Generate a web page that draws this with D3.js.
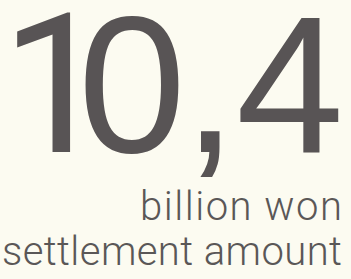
<!DOCTYPE html>
<html><head><meta charset="utf-8">
<script src="https://cdn.jsdelivr.net/npm/d3@7"></script>
<style>html,body{margin:0;padding:0;background:#fcfbf1;}svg{display:block;}</style>
</head><body>
<script>
const bigValue = ["1","0",",","4"];
const labelLines = ["billion won","settlement amount"];

const W = 351, H = 279;
const fontFor = d => d === "1" ? "Roboto, 'Liberation Sans', sans-serif" : "'Liberation Sans', Arial, sans-serif";
const bigSize = 194;
const svg = d3.select("body").append("svg").attr("width", W).attr("height", H);
svg.append("rect").attr("width", W).attr("height", H).attr("fill", "#fcfbf1");

// ink-left positions of each glyph of the big figure (tight tracking)
const inkLeft = d3.scaleOrdinal().domain(d3.range(bigValue.length)).range([17, 85, 200, 240]);
const ctx = document.createElement("canvas").getContext("2d");
const abl = d => { ctx.font = `${bigSize}px ${fontFor(d)}`; return ctx.measureText(d).actualBoundingBoxLeft; };

svg.selectAll("text.big").data(bigValue).join("text")
  .attr("class", "big")
  .attr("x", (d, i) => inkLeft(i) + abl(d))
  .attr("y", 152)
  .attr("font-family", d => fontFor(d))
  .attr("font-size", bigSize)
  .attr("fill", "#585455")
  .text(d => d);

// label lines: right aligned, spaced to span the reference widths
const yLine = d3.scalePoint().domain(labelLines).range([220, 265]);
const lineLeft = d3.scaleOrdinal().domain(labelLines).range([140, 2]);
const rightEdge = 342;
const lbl = svg.selectAll("text.lbl").data(labelLines).join("text")
  .attr("class", "lbl")
  .attr("x", rightEdge).attr("y", d => yLine(d))
  .attr("text-anchor", "end")
  .attr("font-family", "Roboto, 'Open Sans', sans-serif")
  .attr("font-weight", 300)
  .attr("font-size", 40)
  .attr("fill", "#5a5757")
  .text(d => d);
lbl.each(function(d) {
  const natural = this.getComputedTextLength();
  const ls = (rightEdge - lineLeft(d) - natural) / (d.length - 1);
  d3.select(this).attr("letter-spacing", ls).attr("x", rightEdge + ls);
});
</script>
</body></html>
